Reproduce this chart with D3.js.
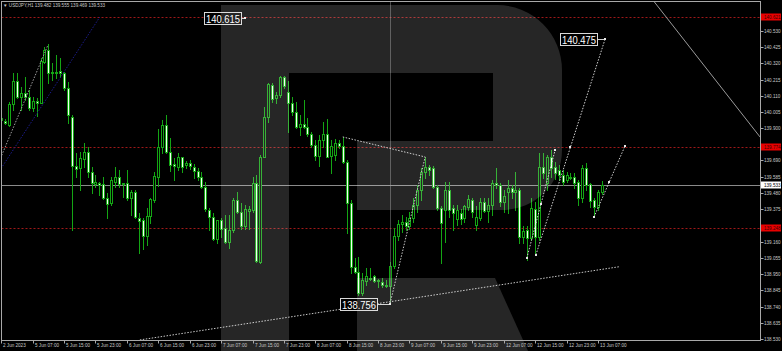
<!DOCTYPE html>
<html><head><meta charset="utf-8">
<script src="https://cdn.jsdelivr.net/npm/d3@7"></script>
<style>html,body{margin:0;padding:0;background:#000;overflow:hidden}</style>
</head><body>
<svg id="c" width="782" height="351"></svg>
<script>
// ---------- DATA ----------
const symbolTitle = "USDJPY,H1";
const lastQuote = [139.482, 139.555, 139.469, 139.533];

const openP = [139.965,139.948,139.920,140.054,140.207,140.099,140.125,140.104,140.032,140.075,
140.065,140.331,140.407,140.262,140.255,140.268,140.255,140.158,139.974,139.656,
139.638,139.699,139.746,139.617,139.537,139.541,139.534,139.443,139.411,139.552,
139.580,139.541,139.541,139.443,139.482,139.318,139.303,139.199,139.329,139.433,
139.584,139.775,139.920,139.742,139.664,139.645,139.710,139.660,139.675,139.649,
139.621,139.584,139.519,139.368,139.324,139.177,139.301,139.249,139.162,139.238,
139.433,139.357,139.264,139.363,139.368,139.541,139.032,139.714,139.969,140.179,
140.093,140.114,140.233,140.136,140.065,140.006,139.909,139.924,139.909,139.861,
139.790,139.720,139.822,139.861,139.718,139.725,139.801,139.783,139.681,139.411,
139.000,138.965,138.829,138.907,138.926,138.939,138.913,138.900,138.881,138.874,
139.004,139.199,139.277,139.290,139.264,139.316,139.400,139.498,139.614,139.647,
139.640,139.517,139.381,139.368,139.498,139.381,139.309,139.348,139.316,139.387,
139.433,139.270,139.316,139.420,139.361,139.400,139.543,139.530,139.420,139.485,
139.511,139.485,139.498,139.193,139.238,139.186,139.374,139.193,139.647,139.543,
139.712,139.650,139.627,139.595,139.562,139.582,139.582,139.549,139.446,139.640,
139.537,139.433,139.387,139.482];
const highP = [139.975,139.956,140.071,140.255,140.255,140.169,140.229,140.147,140.104,140.093,
140.353,140.428,140.446,140.320,140.374,140.353,140.266,140.201,139.985,139.736,
139.746,139.801,139.779,139.649,139.595,139.552,139.584,139.476,139.584,139.649,
139.627,139.545,139.627,139.498,139.498,139.346,139.314,139.378,139.443,139.617,
139.891,139.952,139.985,139.833,139.703,139.736,139.714,139.688,139.692,139.666,
139.638,139.617,139.552,139.378,139.346,139.303,139.314,139.335,139.335,139.443,
139.487,139.411,139.400,139.394,139.584,139.595,139.725,140.039,140.194,140.190,
140.136,140.238,140.238,140.207,140.104,140.071,139.985,140.082,139.963,139.876,
139.822,139.855,139.941,139.956,139.822,139.826,139.822,139.844,139.692,139.433,
139.056,139.062,138.959,138.991,138.991,138.945,138.920,138.926,138.913,139.030,
139.251,139.303,139.335,139.322,139.355,139.446,139.530,139.640,139.712,139.660,
139.653,139.530,139.394,139.549,139.549,139.400,139.400,139.374,139.400,139.465,
139.446,139.394,139.446,139.446,139.446,139.562,139.640,139.543,139.498,139.562,
139.530,139.614,139.511,139.264,139.264,139.446,139.420,139.738,139.737,139.725,
139.757,139.680,139.660,139.627,139.614,139.608,139.608,139.562,139.660,139.672,
139.543,139.446,139.498,139.555];
const lowP = [139.945,139.926,139.913,140.017,140.093,140.017,140.082,140.017,140.011,139.978,
140.060,140.320,140.190,140.212,140.223,140.234,140.150,139.930,139.238,139.584,
139.498,139.649,139.584,139.476,139.519,139.465,139.437,139.314,139.400,139.519,
139.519,139.454,139.433,139.335,139.314,139.091,139.112,139.140,139.285,139.422,
139.526,139.736,139.736,139.623,139.562,139.627,139.617,139.638,139.632,139.573,
139.562,139.508,139.363,139.238,139.173,139.151,139.194,139.151,139.119,139.227,
139.346,139.242,139.242,139.242,139.357,139.032,139.026,139.710,139.941,140.071,
140.060,140.103,140.158,139.876,139.985,139.898,139.855,139.898,139.848,139.775,
139.692,139.653,139.779,139.710,139.611,139.692,139.770,139.671,139.216,138.956,
138.959,138.816,138.816,138.881,138.913,138.900,138.868,138.868,138.868,138.756,
138.991,139.173,139.225,139.238,139.244,139.290,139.355,139.433,139.575,139.595,
139.511,139.368,139.023,139.160,139.322,139.238,139.270,139.277,139.290,139.368,
139.322,139.238,139.303,139.355,139.290,139.335,139.511,139.394,139.355,139.348,
139.446,139.368,139.153,139.153,139.043,139.173,139.076,139.173,139.575,139.498,
139.582,139.570,139.562,139.530,139.549,139.570,139.511,139.400,139.420,139.498,
139.385,139.322,139.368,139.469];
const closeP = [139.952,139.935,140.056,140.205,140.104,140.125,140.099,140.032,140.075,140.065,
140.335,140.407,140.255,140.255,140.266,140.255,140.158,139.985,139.653,139.634,
139.703,139.746,139.617,139.541,139.552,139.530,139.443,139.407,139.562,139.580,
139.534,139.537,139.443,139.482,139.320,139.298,139.199,139.329,139.437,139.589,
139.775,139.920,139.742,139.660,139.653,139.710,139.645,139.675,139.653,139.621,
139.584,139.519,139.372,139.324,139.177,139.301,139.242,139.162,139.238,139.433,
139.357,139.264,139.372,139.374,139.541,139.036,139.714,139.969,140.186,140.086,
140.114,140.229,140.173,140.065,140.006,139.909,139.924,139.909,139.861,139.790,
139.720,139.822,139.861,139.714,139.783,139.801,139.783,139.682,139.411,139.000,
138.965,138.829,138.913,138.939,138.920,138.907,138.907,138.881,138.874,139.004,
139.199,139.277,139.290,139.264,139.316,139.400,139.498,139.614,139.647,139.627,
139.517,139.381,139.283,139.498,139.368,139.348,139.368,139.309,139.394,139.439,
139.355,139.322,139.420,139.361,139.400,139.543,139.530,139.420,139.459,139.511,
139.485,139.498,139.193,139.232,139.186,139.381,139.193,139.647,139.608,139.712,
139.640,139.608,139.595,139.549,139.595,139.575,139.543,139.446,139.640,139.530,
139.426,139.387,139.485,139.533];

const timeLabels = ["2 Jun 2023","5 Jun 07:00","5 Jun 15:00","5 Jun 23:00","6 Jun 07:00","6 Jun 15:00",
"6 Jun 23:00","7 Jun 07:00","7 Jun 15:00","7 Jun 23:00","8 Jun 07:00","8 Jun 15:00","8 Jun 23:00",
"9 Jun 07:00","9 Jun 15:00","9 Jun 23:00","12 Jun 07:00","12 Jun 15:00","12 Jun 23:00","13 Jun 07:00"];
const timeLabelStep = 8;

const priceTicks = ["140.530","140.425","140.320","140.215","140.110","140.005","139.900","139.795",
"139.690","139.585","139.480","139.375","139.270","139.160","139.055","138.950","138.845","138.740",
"138.635","138.530"];

const levelPrices = [140.621, 139.774, 139.248];
const bidPrice = 139.533;

// annotation labels: [bar index, price]
const markLabels = ["140.615", "138.756", "140.475"];
const markIndex = [62.1, 99, 153.8];
const markPrice = [140.615, 138.756, 140.475];

// drawn lines as [bar index, price] points
const trendLine = [[35.3, 138.524], [157.6, 139.000]];
const zigzagLine = [[87, 139.842], [108, 139.712], [99, 138.756]];
const forecastA = [[133.9, 139.056], [141.1, 139.757]];
const forecastB = [[136.2, 139.076], [153.8, 140.475]];
const forecastC = [[151.0, 139.322], [158.9, 139.783]];
const greyRay = [[-0.5, 139.686], [11.9, 140.440]];
const navyRay = [[-0.5, 139.620], [25.1, 140.621]];
const steepLine = [[166.0, 140.731], [193.3, 139.842]];
const vLineIndex = 99;

// ---------- DRAW ----------
const W = 782, H = 351;
const PL = 1.5, PR = 760.5, PT = 1.5, PB = 340.5;
const svg = d3.select("#c");
svg.append("rect").attr("width", W).attr("height", H).attr("fill", "#000");

const x = d3.scaleLinear().domain([0, 153]).range([1.3, 1.3 + 3.925 * 153]);
const y = d3.scaleLinear().domain([138.530, 140.530]).range([339, 31]);

const defs = svg.append("defs");
defs.append("clipPath").attr("id", "plot").append("rect")
  .attr("x", PL).attr("y", PT).attr("width", PR - PL).attr("height", PB - PT);

const plot = svg.append("g").attr("clip-path", "url(#plot)");
const snap = v => Math.round(v) + 0.5;

// level lines
plot.selectAll(".lvl").data(levelPrices).join("line")
  .attr("x1", PL).attr("x2", PR)
  .attr("y1", d => snap(y(d))).attr("y2", d => snap(y(d)))
  .attr("stroke", "#a01818").attr("stroke-width", 1).attr("stroke-dasharray", "2,2");
plot.append("line").attr("x1", PL).attr("x2", PR)
  .attr("y1", snap(y(bidPrice))).attr("y2", snap(y(bidPrice)))
  .attr("stroke", "#8a8a8a").attr("stroke-width", 1);

// candles
const candles = d3.range(openP.length).map(i => ({i, o: openP[i], h: highP[i], l: lowP[i], c: closeP[i]}));
const green = "#14a514";
const cg = plot.append("g");
candles.forEach(d => {
  const cx = snap(x(d.i));
  cg.append("line").attr("x1", cx).attr("x2", cx)
    .attr("y1", Math.round(y(d.h))).attr("y2", Math.round(y(d.l)) + 1)
    .attr("stroke", green).attr("stroke-width", 1);
  const top = snap(y(Math.max(d.o, d.c)));
  const bot = snap(y(Math.min(d.o, d.c)));
  if (bot - top < 1) {
    cg.append("line").attr("x1", cx - 1.5).attr("x2", cx + 1.5)
      .attr("y1", top).attr("y2", top).attr("stroke", green);
  } else {
    cg.append("rect").attr("x", cx - 1).attr("y", top).attr("width", 2).attr("height", bot - top)
      .attr("fill", d.c > d.o ? "#000" : "#f2fff2").attr("stroke", green).attr("stroke-width", 1);
  }
});

// drawn objects
const line = d3.line().x(d => x(d[0])).y(d => y(d[1]));
const dotted = (pts, color, dash) => plot.append("path").attr("d", line(pts))
  .attr("fill", "none").attr("stroke", color).attr("stroke-width", 1).attr("stroke-dasharray", dash);

plot.append("line").attr("x1", snap(x(vLineIndex))).attr("x2", snap(x(vLineIndex)))
  .attr("y1", PT).attr("y2", y(138.756))
  .attr("stroke", "#8c8c8c").attr("stroke-width", 1).attr("stroke-dasharray", "1,1");
dotted(trendLine, "#c8c8c8", "1.5,1.5");
dotted(zigzagLine, "#c8c8c8", "1.5,1.5");
dotted(forecastA, "#d0d0d0", "1.5,1.5");
dotted(forecastB, "#d0d0d0", "1.5,1.5");
dotted(forecastC, "#d0d0d0", "1.5,1.5");
dotted(greyRay, "#a0a0a0", "1.5,1.5");
dotted(navyRay, "#1c1c8c", "1.5,1.5");
plot.append("path").attr("d", line(steepLine)).attr("fill", "none")
  .attr("stroke", "#9a9a9a").attr("stroke-width", 1);

// handles
[forecastA, forecastB, forecastC].forEach(pts => {
  const a = pts[0], b = pts[1];
  const hs = [a, [(a[0] + b[0]) / 2, (a[1] + b[1]) / 2], b];
  plot.selectAll(null).data(hs).join("rect")
    .attr("x", d => Math.round(x(d[0])) - 1).attr("y", d => Math.round(y(d[1])) - 1)
    .attr("width", 2).attr("height", 2).attr("fill", "#e8e8e8");
});

// price annotation labels
const labGap = [4, 13, 8];
markLabels.forEach((t, k) => {
  const px = x(markIndex[k]), py = y(markPrice[k]);
  const bw = 37, bh = 12;
  const bx = Math.round(px - labGap[k] - bw) + 0.5, by = Math.round(py - bh / 2) + 0.5;
  plot.append("line").attr("x1", bx + bw).attr("x2", px).attr("y1", snap(py)).attr("y2", snap(py))
    .attr("stroke", "#cfcfcf").attr("stroke-width", 1);
  plot.append("rect").attr("x", bx).attr("y", by).attr("width", bw).attr("height", bh)
    .attr("fill", "#000").attr("stroke", "#d8d8d8").attr("stroke-width", 1);
  plot.append("text").attr("x", bx + bw / 2).attr("y", by + bh / 2 + 0.5)
    .attr("text-anchor", "middle").attr("dominant-baseline", "central")
    .attr("font-family", "Liberation Sans, Arial, sans-serif").attr("font-size", 10.5)
    .attr("textLength", 34).attr("lengthAdjust", "spacingAndGlyphs")
    .attr("fill", "#ffffff").text(t);
  plot.append("rect").attr("x", Math.round(px) - 1).attr("y", Math.round(py) - 1)
    .attr("width", 2).attr("height", 2).attr("fill", "#e8e8e8");
});

// watermark (translucent logo)
const wm = svg.append("g").attr("fill", "#ffffff").attr("fill-opacity", 0.15);
wm.append("path").attr("d",
  "M221,5 H497 A65,65 0 0 1 562,70 V150 A60,60 0 0 1 502,210 H357 V141 H493 V73 H289 V351 H221 Z");
wm.append("path").attr("d", "M357,278 H495 L528,351 H357 Z");

// frame
svg.append("rect").attr("x", PL).attr("y", PT).attr("width", PR - PL).attr("height", PB - PT)
  .attr("fill", "none").attr("stroke", "#a8a8a8").attr("stroke-width", 1);

const fontF = "Liberation Sans, Arial, sans-serif";
// y axis (labels hidden behind the marker labels are skipped)
const markerYs = levelPrices.concat([bidPrice]).map(p => y(p));
const yAxis = svg.append("g");
priceTicks.forEach(t => {
  const yy = snap(y(+t));
  yAxis.append("line").attr("x1", PR).attr("x2", PR + 3).attr("y1", yy).attr("y2", yy)
    .attr("stroke", "#a8a8a8");
  if (markerYs.some(m => Math.abs(m - yy) < 6.5)) return;
  yAxis.append("text").attr("x", 764).attr("y", yy).attr("dominant-baseline", "central")
    .attr("font-family", fontF).attr("font-size", 4.6).attr("fill", "#c8c8c8").text(t);
});
// level labels
levelPrices.forEach(p => {
  const yy = Math.round(y(p));
  yAxis.append("rect").attr("x", 761).attr("y", yy - 3.5).attr("width", 20).attr("height", 7)
    .attr("fill", "#e80000");
  yAxis.append("text").attr("x", 764).attr("y", yy).attr("dominant-baseline", "central")
    .attr("font-family", fontF).attr("font-size", 4.6).attr("fill", "#3a0000").text(p.toFixed(3));
});
{
  const yy = Math.round(y(bidPrice));
  yAxis.append("rect").attr("x", 761).attr("y", yy - 3.5).attr("width", 20).attr("height", 7)
    .attr("fill", "#ffffff");
  yAxis.append("text").attr("x", 764).attr("y", yy).attr("dominant-baseline", "central")
    .attr("font-family", fontF).attr("font-size", 4.6).attr("fill", "#000").text(bidPrice.toFixed(3));
}

// x axis
const xAxis = svg.append("g");
timeLabels.forEach((t, k) => {
  const xx = snap(x(k * timeLabelStep));
  xAxis.append("line").attr("x1", xx).attr("x2", xx).attr("y1", PB).attr("y2", PB + 3)
    .attr("stroke", "#a8a8a8");
  xAxis.append("text").attr("x", xx + 1.5).attr("y", 345.5).attr("dominant-baseline", "central")
    .attr("font-family", fontF).attr("font-size", 4.6).attr("fill", "#c8c8c8").text(t);
});

// header
svg.append("text").attr("x", 3).attr("y", 5.5).attr("dominant-baseline", "central")
  .attr("font-family", "Liberation Sans, DejaVu Sans, sans-serif").attr("font-size", 4.6)
  .attr("fill", "#c8c8c8")
  .text("\u25BC " + symbolTitle + "  " + lastQuote.map(v => v.toFixed(3)).join(" "));
</script>
</body></html>
